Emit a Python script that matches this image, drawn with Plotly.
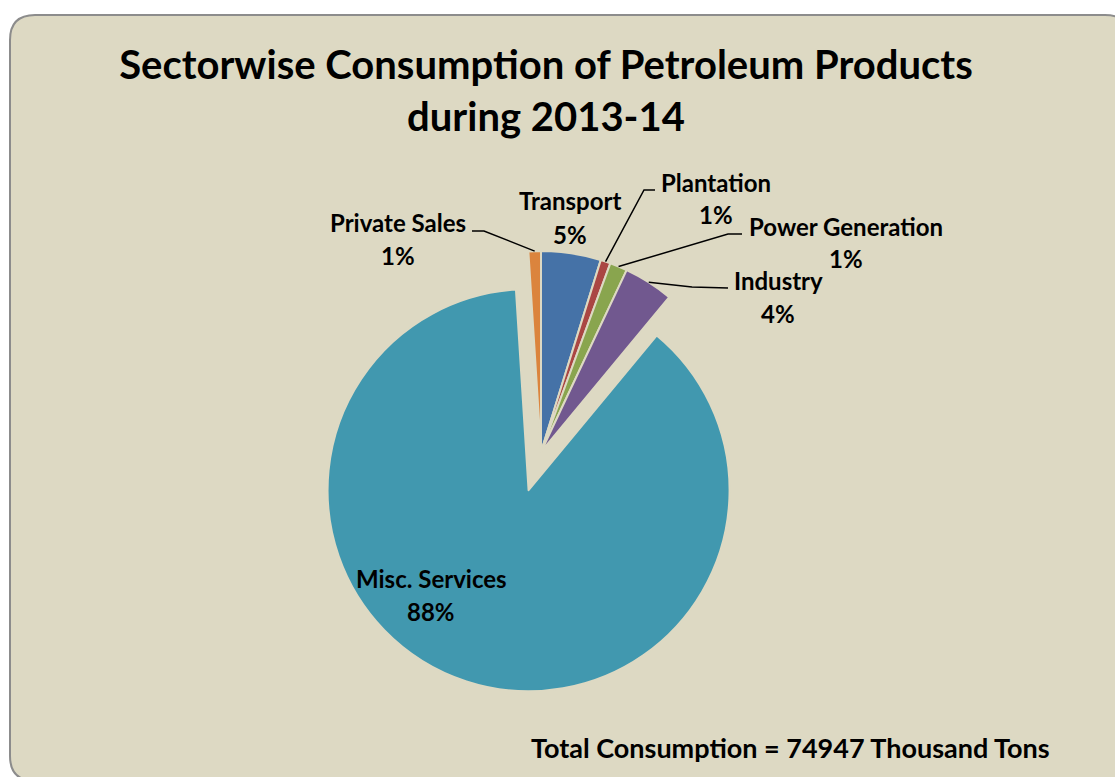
import math
import plotly.graph_objects as go

W, H = 1115, 777

# Sector-wise consumption, thousand tons (2013-14)
sectors = ["Transport", "Plantation", "Power Generation", "Industry",
           "Misc. Services", "Private Sales"]
consumption = [3600, 600, 1050, 3000, 65947, 750]
colors = ["#4572A7", "#AA4643", "#89A54E", "#71588F", "#4198AF", "#DB843D"]
pulls = [0, 0, 0, 0, 0.2, 0]

total = sum(consumption)
title_text = "Sectorwise Consumption of Petroleum Products<br>during 2013-14"
footer_text = f"Total Consumption = {total} Thousand Tons"

BG = "#DDD9C3"
FONT = "Lato"

# pie geometry in pixels
CX, CY, R = 541, 452, 201


def px(x):
    return x / W


def py(y):
    return 1 - y / H


half = R * (1 + max(pulls))
domain_x = [px(CX - half), px(CX + half)]
domain_y = [py(CY + half), py(CY - half)]

# label name centres (pixels); percent line sits below the name
label_pos = {
    "Transport": (570, 201),
    "Plantation": (716, 182),
    "Power Generation": (846, 226),
    "Industry": (778, 280),
    "Misc. Services": (431, 578),
    "Private Sales": (398, 222),
}
# leader lines: elbow point and end point near the label
leaders = {
    "Plantation": [(644, 190), (655, 190)],
    "Power Generation": [(728, 234), (742, 234)],
    "Industry": [(692, 287), (728, 288)],
    "Private Sales": [(484, 231), (472, 231)],
}

fig = go.Figure(go.Pie(
    labels=sectors,
    values=consumption,
    sort=False,
    direction="clockwise",
    rotation=0,
    pull=pulls,
    marker=dict(colors=colors, line=dict(color=BG, width=2)),
    textinfo="none",
    hovertemplate="%{label}: %{value} (%{percent})<extra></extra>",
    domain=dict(x=domain_x, y=domain_y),
    showlegend=False,
))

shapes = []
# rounded chart area
L, T, Rt, B, rad = 10, 15, 1130, 781, 25
path = (f"M {px(L)},{py(T + rad)} "
        f"Q {px(L)},{py(T)} {px(L + rad)},{py(T)} "
        f"L {px(Rt - rad)},{py(T)} "
        f"Q {px(Rt)},{py(T)} {px(Rt)},{py(T + rad)} "
        f"L {px(Rt)},{py(B - rad)} "
        f"Q {px(Rt)},{py(B)} {px(Rt - rad)},{py(B)} "
        f"L {px(L + rad)},{py(B)} "
        f"Q {px(L)},{py(B)} {px(L)},{py(B - rad)} Z")
shapes.append(dict(type="path", xref="paper", yref="paper", path=path,
                   fillcolor=BG, line=dict(color="#8C8C8C", width=2),
                   layer="below"))

# leader lines start on the slice arc at the slice's mid-angle
cum = 0
for name, v in zip(sectors, consumption):
    mid = (cum + v / 2) / total * 2 * math.pi
    cum += v
    if name not in leaders:
        continue
    ax = CX + R * math.sin(mid)
    ay = CY - R * math.cos(mid)
    pts = [(ax, ay)] + leaders[name]
    d = "M " + " L ".join(f"{px(x)},{py(y)}" for x, y in pts)
    shapes.append(dict(type="path", xref="paper", yref="paper", path=d,
                       line=dict(color="black", width=1.5)))

annotations = []
for name, v in zip(sectors, consumption):
    x, y = label_pos[name]
    pct = f"{round(100 * v / total)}%"
    for text, yy in ((name, y), (pct, y + 33)):
        annotations.append(dict(
            x=px(x), y=py(yy), xref="paper", yref="paper",
            text=f"<b>{text}</b>", showarrow=False,
            xanchor="center", yanchor="middle",
            font=dict(family=FONT, size=24, color="black")))

annotations.append(dict(
    x=px(790), y=py(747), xref="paper", yref="paper",
    text=f"<b>{footer_text}</b>", showarrow=False,
    xanchor="center", yanchor="middle",
    font=dict(family=FONT, size=27, color="black")))

fig.update_layout(
    width=W, height=H,
    margin=dict(l=0, r=0, t=0, b=0),
    paper_bgcolor="white",
    plot_bgcolor="white",
    title=dict(text=f"<b>{title_text}</b>", x=px(546), xanchor="center",
               y=py(79), yanchor="middle",
               font=dict(family=FONT, size=40, color="black")),
    shapes=shapes,
    annotations=annotations,
)

fig.write_html("out.html")
